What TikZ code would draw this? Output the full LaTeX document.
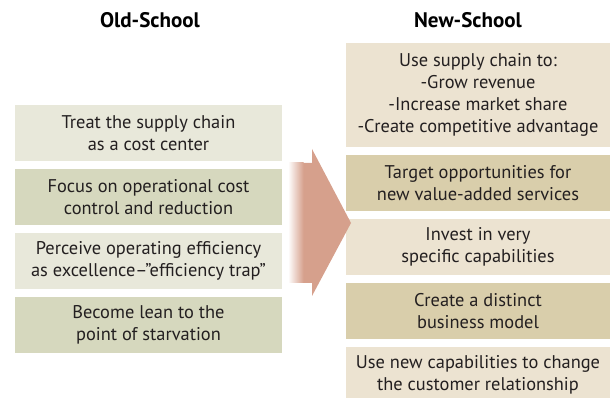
\documentclass[tikz,border=0pt]{standalone}
\usepackage{fontspec}
\setmainfont{PT Sans}
\usepackage{tikz}

\definecolor{oldlight}{HTML}{E8E8DA}
\definecolor{olddark}{HTML}{D6D8BE}
\definecolor{newlight}{HTML}{ECE3D1}
\definecolor{newdark}{HTML}{D9CEAB}
\definecolor{arrowred}{HTML}{D6A08C}
\definecolor{inktext}{HTML}{231F20}

\tikzset{
	box/.style={inner sep=0pt, align=center, text=inktext, font=\fontsize{13.8}{16.6}\selectfont},
	oldbox/.style={box, minimum width=200pt, minimum height=42pt},
	newbox/.style={box, minimum width=198pt, minimum height=42pt},
	title/.style={text=black, font=\fontsize{15.8}{18}\selectfont\bfseries}
}

\begin{document}
\begin{tikzpicture}[x=0.75pt, y=-0.75pt]
		\useasboundingbox (0,0) rectangle (610,398);
		% Column titles
		\node[title] (oldtitle) at (150,20) {Old-School};
		\node[title] (newtitle) at (468,20) {New-School};
		% Old-school boxes
		\node[oldbox, fill=oldlight] (old1) at (148.5,133) {Treat the supply chain\\as a cost center};
		\node[oldbox, fill=olddark] (old2) at (148.5,197) {Focus on operational cost\\control and reduction};
		\node[oldbox, fill=oldlight] (old3) at (148.5,261) {Perceive operating efficiency\\as excellence--"efficiency trap"};
		\node[oldbox, fill=olddark] (old4) at (148.5,325) {Become lean to the\\point of starvation};
		% New-school boxes
		\node[newbox, fill=newlight, minimum height=78pt] (new1) at (478,95) {Use supply chain to:\\-Grow revenue\\-Increase market share\\-Create competitive advantage};
		\node[newbox, fill=newdark] (new2) at (478,183) {Target opportunities for\\new value-added services};
		\node[newbox, fill=newlight] (new3) at (478,247) {Invest in very\\specific capabilities};
		\node[newbox, fill=newdark] (new4) at (478,311) {Create a distinct\\business model};
		\node[newbox, fill=newlight] (new5) at (478,375) {Use new capabilities to change\\the customer relationship};
		% Big arrow in between
		\fill[arrowred] (303,163) -- (312,163) -- (312,149) -- (351,223) -- (312,296) -- (312,283) -- (303,283) -- cycle;
		\shade[left color=white, right color=arrowred] (288,163) rectangle (303.5,283);
	\end{tikzpicture}
\end{document}
